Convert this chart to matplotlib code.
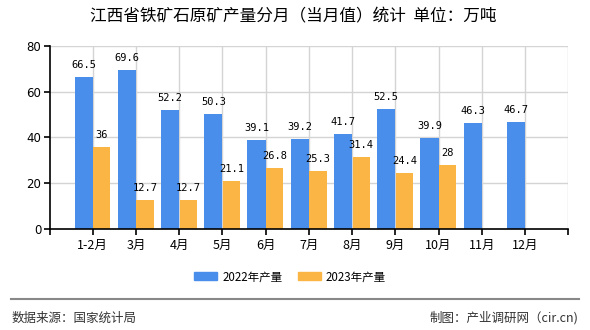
import numpy as np
import matplotlib
matplotlib.use('Agg')
import matplotlib.pyplot as plt
from matplotlib.patches import Patch

plt.rcParams['font.family'] = ['Noto Sans CJK SC', 'DejaVu Sans']

# data
months = ['1-2月', '3月', '4月', '5月', '6月', '7月', '8月', '9月', '10月', '11月', '12月']
prod_2022 = [66.5, 69.6, 52.2, 50.3, 39.1, 39.2, 41.7, 52.5, 39.9, 46.3, 46.7]
prod_2023 = [36, 12.7, 12.7, 21.1, 26.8, 25.3, 31.4, 24.4, 28, None, None]
yticks = [0, 20, 40, 60, 80]

c_blue = '#4A8EEB'
c_orange = '#FBB545'

fig = plt.figure(figsize=(5.9, 3.3), dpi=100)
ax = fig.add_axes([0.084, 0.306, 0.879, 0.555])

x = np.arange(1, len(months) + 1)
w = 0.42

def fmt(v):
	return ('%g' % v)

# 2022 bars
ax.bar(x - w / 2, prod_2022, width=w, color=c_blue, zorder=2)
for xi, v in zip(x, prod_2022):
	ax.annotate(fmt(v), (xi - w / 2, v), xytext=(0, 5), textcoords='offset points',
		ha='center', va='bottom', fontsize=7.5, family='DejaVu Sans Mono', zorder=3)

# 2023 bars (only months with data)
x23 = [xi for xi, v in zip(x, prod_2023) if v is not None]
v23 = [v for v in prod_2023 if v is not None]
ax.bar(np.array(x23) + w / 2, v23, width=0.40, color=c_orange, zorder=2)
for xi, v in zip(x23, v23):
	ax.annotate(fmt(v), (xi + w / 2, v), xytext=(0, 5), textcoords='offset points',
		ha='center', va='bottom', fontsize=7.5, family='DejaVu Sans Mono', zorder=3)

ax.set_xlim(0, 12)
ax.set_ylim(0, 80)
ax.set_yticks(yticks)
ax.set_yticklabels([str(t) for t in yticks], fontsize=8.5, family='DejaVu Sans')
ax.set_xticks(np.arange(0, 13))
ax.set_xticklabels([''] + months + [''], fontsize=9)

# grid
for gx in range(1, 13):
	ax.axvline(gx, color='#d4d4d4', linewidth=1, zorder=1)
for gy in yticks[1:]:
	ax.axhline(gy, color='#d4d4d4', linewidth=1, zorder=1)

for s in ['top', 'right']:
	ax.spines[s].set_visible(False)
ax.spines['left'].set_linewidth(1.2)
ax.spines['bottom'].set_linewidth(1.2)
ax.tick_params(axis='both', direction='out', length=4, width=1.2, color='black')
ax.tick_params(axis='x', pad=3)
ax.tick_params(axis='y', pad=2)

fig.text(0.497, 0.948, '江西省铁矿石原矿产量分月（当月值）统计  单位：万吨',
	ha='center', va='center', fontsize=12)

handles = [Patch(color=c_blue, label='2022年产量'), Patch(color=c_orange, label='2023年产量')]
fig.legend(handles=handles, loc='center', bbox_to_anchor=(0.492, 0.161), ncol=2,
	frameon=False, fontsize=8.3, handlelength=1.95, handleheight=0.7,
	handletextpad=0.45, columnspacing=1.4)

# footer
fig.add_artist(plt.Line2D([0.019, 0.981], [0.094, 0.094], color='#888888', linewidth=1.5))
fig.text(0.019, 0.036, '数据来源：国家统计局', ha='left', va='center', fontsize=9, color='#333333')
fig.text(0.981, 0.036, '制图：产业调研网（cir.cn)', ha='right', va='center', fontsize=9, color='#333333')

fig.savefig('out.png', dpi=100)
